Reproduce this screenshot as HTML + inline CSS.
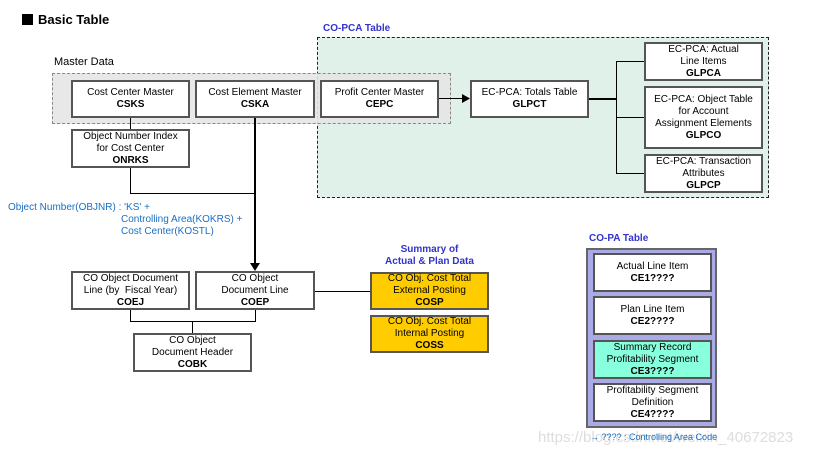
<!DOCTYPE html><html><head><meta charset="utf-8"><style>
body{margin:0;width:822px;height:456px;background:#fff;position:relative;overflow:hidden;font-family:"Liberation Sans",sans-serif;font-size:10px;color:#000}
.a{position:absolute}
.b{position:absolute;background:#fff;border:2px solid #555;box-sizing:border-box;text-align:center;display:flex;flex-direction:column;justify-content:center;line-height:12px;font-size:10px}
.b b{font-weight:bold}
.l{position:absolute;background:#000}
</style></head><body>
<div class="a" style="left:22px;top:14px;width:11px;height:11px;background:#000"></div>
<div class="a" style="left:38px;top:12px;font-size:13px;font-weight:bold">Basic Table</div>
<div class="a" style="left:323px;top:23px;font-size:10px;font-weight:bold;color:#3333cc">CO-PCA Table</div>
<div class="a" style="left:317px;top:37px;width:452px;height:161px;box-sizing:border-box;border:1px dashed #222;background:#dff1e8"></div>
<div class="a" style="left:54px;top:56px;font-size:11px">Master Data</div>
<div class="a" style="left:52px;top:73px;width:399px;height:51px;box-sizing:border-box;border:1.5px dashed #888;background:rgba(230,230,230,0.9)"></div>
<div class="b" style="left:71px;top:80px;width:119px;height:38px">Cost Center Master<b>CSKS</b></div>
<div class="b" style="left:195px;top:80px;width:120px;height:38px">Cost Element Master<b>CSKA</b></div>
<div class="b" style="left:320px;top:80px;width:119px;height:38px">Profit Center Master<b>CEPC</b></div>
<div class="b" style="left:71px;top:129px;width:119px;height:39px">Object Number Index<span>for Cost Center</span><b>ONRKS</b></div>
<div class="l" style="left:130px;top:118px;width:1px;height:11px"></div>
<div class="l" style="left:130px;top:168px;width:1px;height:25px"></div>
<div class="l" style="left:130px;top:193px;width:125px;height:1px"></div>
<div class="l" style="left:254px;top:118px;width:2px;height:148px"></div>
<svg class="a" style="left:250px;top:263px" width="10" height="9"><polygon points="0,0 10,0 5,8" fill="#000"/></svg>
<div class="l" style="left:439px;top:98px;width:24px;height:1px"></div>
<svg class="a" style="left:462px;top:94px" width="8" height="9"><polygon points="0,0 8,4.5 0,9" fill="#000"/></svg>
<div class="b" style="left:470px;top:80px;width:119px;height:38px">EC-PCA: Totals Table<b>GLPCT</b></div>
<div class="l" style="left:589px;top:98px;width:27px;height:1.5px"></div>
<div class="l" style="left:616px;top:61px;width:1px;height:113px"></div>
<div class="l" style="left:616px;top:61px;width:28px;height:1px"></div>
<div class="l" style="left:616px;top:117px;width:28px;height:1px"></div>
<div class="l" style="left:616px;top:173px;width:28px;height:1px"></div>
<div class="b" style="left:644px;top:42px;width:119px;height:39px">EC-PCA: Actual<span>Line Items</span><b>GLPCA</b></div>
<div class="b" style="left:644px;top:86px;width:119px;height:63px">EC-PCA: Object Table<span>for Account</span><span>Assignment Elements</span><b>GLPCO</b></div>
<div class="b" style="left:644px;top:154px;width:119px;height:39px">EC-PCA: Transaction<span>Attributes</span><b>GLPCP</b></div>
<div class="a" style="left:8px;top:202px;color:#1a6fc4;line-height:12px">Object Number(OBJNR) : 'KS' +</div>
<div class="a" style="left:121px;top:214px;color:#1a6fc4;line-height:12px">Controlling Area(KOKRS) +<br>Cost Center(KOSTL)</div>
<div class="b" style="left:71px;top:271px;width:119px;height:39px">CO Object Document<span>Line (by &nbsp;Fiscal Year)</span><b>COEJ</b></div>
<div class="b" style="left:195px;top:271px;width:120px;height:39px">CO Object<span>Document Line</span><b>COEP</b></div>
<div class="l" style="left:130px;top:310px;width:1px;height:12px"></div>
<div class="l" style="left:255px;top:310px;width:1px;height:12px"></div>
<div class="l" style="left:130px;top:321px;width:126px;height:1px"></div>
<div class="l" style="left:192px;top:321px;width:1px;height:12px"></div>
<div class="b" style="left:133px;top:333px;width:119px;height:39px">CO Object<span>Document Header</span><b>COBK</b></div>
<div class="l" style="left:315px;top:291px;width:55px;height:1px"></div>
<div class="a" style="left:370px;top:244px;width:119px;text-align:center;font-weight:bold;color:#3333cc;line-height:12px">Summary of<br>Actual &amp; Plan Data</div>
<div class="b" style="left:370px;top:272px;width:119px;height:38px;background:#ffcc00">CO Obj. Cost Total<span>External Posting</span><b>COSP</b></div>
<div class="b" style="left:370px;top:315px;width:119px;height:38px;background:#ffcc00">CO Obj. Cost Total<span>Internal Posting</span><b>COSS</b></div>
<div class="a" style="left:589px;top:233px;font-weight:bold;color:#3333cc">CO-PA Table</div>
<div class="a" style="left:586px;top:248px;width:131px;height:180px;box-sizing:border-box;border:2px solid #666;background:#aaaae6"></div>
<div class="b" style="left:593px;top:253px;width:119px;height:39px">Actual Line Item<b>CE1????</b></div>
<div class="b" style="left:593px;top:296px;width:119px;height:39px">Plan Line Item<b>CE2????</b></div>
<div class="b" style="left:593px;top:340px;width:119px;height:39px;background:#88ffdd">Summary Record<span>Profitability Segment</span><b>CE3????</b></div>
<div class="b" style="left:593px;top:383px;width:119px;height:39px">Profitability Segment<span>Definition</span><b>CE4????</b></div>
<div class="a" style="left:538px;top:429px;font-size:15px;color:#ddd">https://blog.csdn.net/weixin_40672823</div>
<div class="a" style="left:590px;top:432px;font-size:9px;color:#1a6fc4">→ ???? : Controlling Area Code</div>
</body></html>
